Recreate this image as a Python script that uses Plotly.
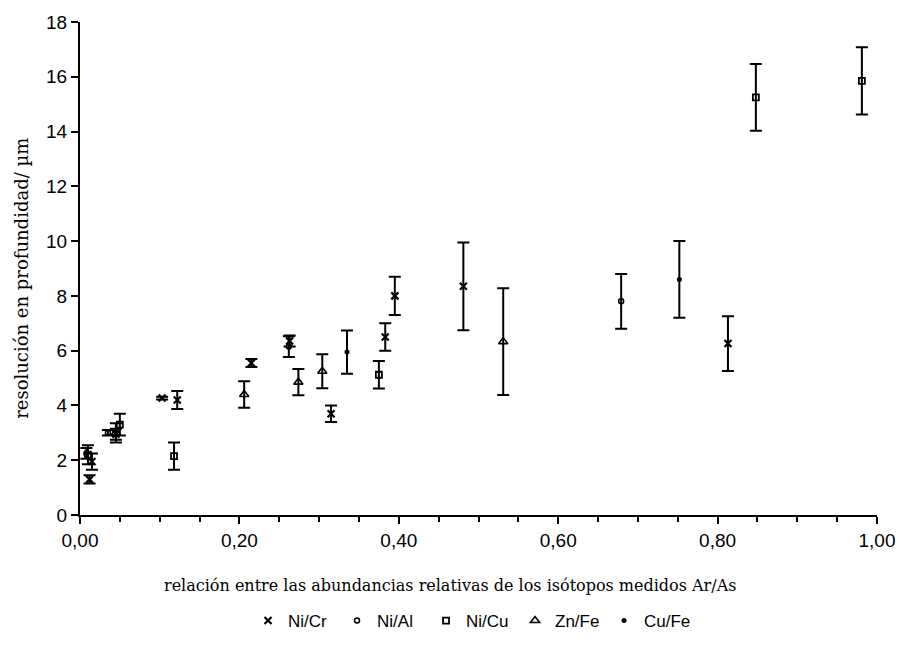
import plotly.graph_objects as go

# Isotope ratio Ar/As (x), depth resolution in µm (y) and its uncertainty for each pair
nicr_x = [0.012, 0.015, 0.045, 0.103, 0.122, 0.215, 0.263, 0.315, 0.383, 0.395, 0.481, 0.813]
nicr_y = [1.30, 1.95, 2.95, 4.27, 4.20, 5.55, 6.35, 3.70, 6.50, 8.00, 8.35, 6.26]
nicr_e = [0.15, 0.30, 0.20, 0.05, 0.33, 0.15, 0.20, 0.30, 0.50, 0.70, 1.60, 1.00]

nial_x = [0.008, 0.035, 0.262, 0.679]
nial_y = [2.25, 3.00, 6.15, 7.80]
nial_e = [0.20, 0.10, 0.38, 1.00]

nicu_x = [0.010, 0.050, 0.118, 0.375, 0.848, 0.981]
nicu_y = [2.20, 3.30, 2.15, 5.12, 15.25, 15.85]
nicu_e = [0.35, 0.40, 0.50, 0.50, 1.22, 1.23]

znfe_x = [0.045, 0.206, 0.274, 0.304, 0.531]
znfe_y = [3.00, 4.40, 4.85, 5.25, 6.33]
znfe_e = [0.35, 0.48, 0.48, 0.62, 1.95]

cufe_x = [0.335, 0.752]
cufe_y = [5.95, 8.60]
cufe_e = [0.79, 1.40]

x_title = "relación entre las abundancias relativas de los isótopos medidos Ar/As"
y_title = "resolución en profundidad/ µm"

series = [
    ("Ni/Cr", nicr_x, nicr_y, nicr_e, dict(symbol="x-thin-open", size=7, line=dict(width=2.2, color="black"))),
    ("Ni/Al", nial_x, nial_y, nial_e, dict(symbol="circle-open", size=5, line=dict(width=1.5, color="black"))),
    ("Ni/Cu", nicu_x, nicu_y, nicu_e, dict(symbol="square-open", size=6, line=dict(width=1.8, color="black"))),
    ("Zn/Fe", znfe_x, znfe_y, znfe_e, dict(symbol="triangle-up-open", size=8, line=dict(width=1.6, color="black"))),
    ("Cu/Fe", cufe_x, cufe_y, cufe_e, dict(symbol="circle", size=5)),
]

fig = go.Figure()
for name, xs, ys, es, mk in series:
    fig.add_trace(go.Scatter(
        x=xs, y=ys, name=name, mode="markers",
        marker=dict(color="black", **mk),
        error_y=dict(type="data", array=es, visible=True, color="black", thickness=2, width=6),
    ))

title_font = dict(family="DejaVu Serif, serif", color="black")

fig.update_layout(
    width=899, height=651,
    margin=dict(l=80, r=22, t=22, b=136, autoexpand=False),
    paper_bgcolor="white", plot_bgcolor="white",
    separators=",.",
    font=dict(family="Liberation Sans, Arial, sans-serif", size=16, color="black"),
    showlegend=True,
    legend=dict(orientation="h", x=0.49, xanchor="center", y=-0.215, yanchor="middle",
                font=dict(family="Liberation Sans, Arial, sans-serif", size=17),
                itemwidth=30, entrywidth=44, entrywidthmode="pixels"),
    xaxis=dict(
        range=[0, 1], tickvals=[0, 0.2, 0.4, 0.6, 0.8, 1.0], tickformat=".2f",
        automargin=False,
        showline=True, linecolor="black", linewidth=2, mirror=False,
        ticks="outside", ticklen=7, tickwidth=2, tickcolor="black",
        minor=dict(dtick=0.05, ticks="outside", ticklen=5, tickwidth=1.5, tickcolor="black"),
        showgrid=False, zeroline=False,
        tickfont=dict(size=19),
    ),
    yaxis=dict(
        range=[0, 18], dtick=2,
        automargin=False,
        showline=True, linecolor="black", linewidth=2, mirror=False,
        ticks="outside", ticklen=7, tickwidth=2, tickcolor="black",
        showgrid=False, zeroline=False,
        tickfont=dict(size=19),
    ),
    annotations=[
        dict(text=x_title, xref="paper", yref="paper", x=0.464, y=-0.142,
             xanchor="center", yanchor="middle", showarrow=False,
             font=dict(size=16, **title_font)),
        dict(text=y_title, xref="paper", yref="paper", x=-0.0728, y=0.481,
             xanchor="center", yanchor="middle", showarrow=False, textangle=-90,
             font=dict(size=18, **title_font)),
    ],
)

fig.write_html("out.html")
